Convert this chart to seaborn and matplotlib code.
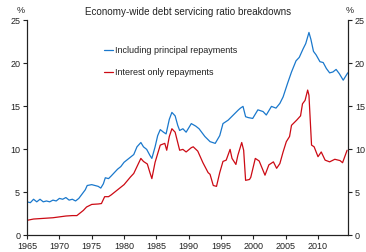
import seaborn as sns
import matplotlib.pyplot as plt
import pandas as pd

# Values (per cent of household disposable income)
principal_years = [1965.0, 1965.5, 1966.0, 1966.5, 1967.0, 1967.5, 1968.0, 1968.5, 1969.0, 1969.5,
                   1970.0, 1970.5, 1971.0, 1971.5, 1972.0, 1972.5, 1973.0, 1973.5, 1974.0, 1974.3,
                   1975.0, 1975.5, 1976.0, 1976.4, 1976.8, 1977.1, 1977.6, 1978.0, 1978.5, 1979.0,
                   1979.5, 1980.0, 1980.5, 1981.0, 1981.5, 1982.0, 1982.6, 1983.0, 1983.5, 1984.0,
                   1984.3, 1984.8, 1985.2, 1985.6, 1986.1, 1986.5, 1987.0, 1987.4, 1987.9, 1988.3,
                   1988.6, 1989.1, 1989.6, 1990.4, 1991.1, 1991.6, 1992.0, 1992.5, 1993.3, 1994.1,
                   1994.8, 1995.3, 1996.1, 1996.9, 1997.7, 1998.0, 1998.4, 1998.8, 1999.2, 1999.9,
                   2000.7, 2001.5, 2002.0, 2002.8, 2003.5, 2004.1, 2004.6, 2005.3, 2005.9, 2006.6,
                   2007.1, 2007.7, 2008.1, 2008.6, 2008.9, 2009.3, 2009.7, 2010.3, 2010.8, 2011.3,
                   2011.8, 2012.3, 2012.8, 2013.3, 2013.9, 2014.6]
principal_vals = [3.9, 3.8, 4.2, 3.9, 4.2, 3.9, 4.0, 3.9, 4.1, 4.0,
                  4.3, 4.2, 4.4, 4.1, 4.2, 4.0, 4.3, 4.8, 5.3, 5.8,
                  5.9, 5.8, 5.7, 5.5, 6.0, 6.7, 6.6, 6.9, 7.3, 7.7,
                  8.0, 8.5, 8.8, 9.1, 9.4, 10.3, 10.8, 10.3, 10.0, 9.3,
                  8.95, 10.3, 11.6, 12.3, 12.0, 11.8, 13.5, 14.3, 13.9, 12.8,
                  12.2, 12.4, 12.0, 13.0, 12.7, 12.4, 12.0, 11.5, 10.9, 10.7,
                  11.6, 13.0, 13.4, 14.0, 14.6, 14.8, 15.0, 13.8, 13.7, 13.6,
                  14.6, 14.4, 14.0, 15.0, 14.8, 15.35, 16.1, 17.7, 19.0, 20.3,
                  20.7, 21.7, 22.3, 23.6, 22.8, 21.4, 21.0, 20.2, 20.1, 19.4,
                  18.9, 19.0, 19.3, 18.8, 18.05, 18.9]

interest_years = [1965.0, 1966.0, 1967.0, 1968.0, 1969.0, 1970.0, 1971.0, 1972.0, 1972.7, 1973.2,
                  1973.7, 1974.2, 1975.0, 1976.0, 1976.5, 1977.0, 1977.6, 1978.0, 1979.0, 1980.0,
                  1981.0, 1981.5, 1982.0, 1982.6, 1983.0, 1983.6, 1984.0, 1984.3, 1984.8, 1985.6,
                  1986.3, 1986.6, 1987.0, 1987.4, 1987.9, 1988.3, 1988.6, 1989.1, 1989.6, 1990.4,
                  1990.7, 1991.4, 1992.2, 1993.0, 1993.3, 1993.8, 1994.3, 1994.8, 1995.3, 1995.8,
                  1996.4, 1996.7, 1997.3, 1997.6, 1998.2, 1998.5, 1998.8, 1999.4, 1999.6, 2000.3,
                  2000.9, 2001.8, 2002.4, 2003.1, 2003.6, 2004.1, 2004.6, 2005.1, 2005.6, 2005.9,
                  2006.7, 2007.3, 2007.6, 2008.0, 2008.4, 2008.6, 2009.0, 2009.4, 2010.0, 2010.5,
                  2011.1, 2011.8, 2012.6, 2013.4, 2013.8, 2014.5]
interest_vals = [1.75, 1.9, 1.95, 2.0, 2.05, 2.15, 2.25, 2.3, 2.3, 2.6,
                 2.9, 3.3, 3.6, 3.65, 3.7, 4.5, 4.5, 4.7, 5.3, 5.9,
                 6.8, 7.2, 8.0, 8.95, 8.6, 8.3, 7.3, 6.6, 8.5, 10.5,
                 10.7, 9.9, 11.5, 12.4, 12.0, 10.8, 9.9, 10.0, 9.7, 10.2,
                 10.3, 9.8, 8.45, 7.3, 7.1, 5.8, 5.7, 7.3, 8.6, 8.75,
                 10.0, 8.95, 8.25, 9.3, 10.8, 9.9, 6.4, 6.5, 6.75, 8.95,
                 8.65, 7.0, 8.2, 8.55, 7.8, 8.35, 9.7, 10.9, 11.5, 12.8,
                 13.4, 13.9, 15.3, 15.7, 16.9, 16.3, 10.5, 10.3, 9.15, 9.7,
                 8.75, 8.55, 8.85, 8.7, 8.45, 9.9]

series_names = ['Including principal repayments', 'Interest only repayments']
year_ticks = [1965, 1970, 1975, 1980, 1985, 1990, 1995, 2000, 2005, 2010]
pct_ticks = [0, 5, 10, 15, 20, 25]

df = pd.concat([
    pd.DataFrame({'year': principal_years, 'ratio': principal_vals, 'series': series_names[0]}),
    pd.DataFrame({'year': interest_years, 'ratio': interest_vals, 'series': series_names[1]}),
])

sns.set_theme(style='ticks')
plt.rcParams['font.family'] = ['Liberation Sans', 'DejaVu Sans']
plt.rcParams['font.size'] = 6.5

fig = plt.figure(figsize=(3.66, 2.52), dpi=100)
ax = fig.add_axes([0.074, 0.066, 0.877, 0.853])

sns.lineplot(data=df, x='year', y='ratio', hue='series', hue_order=series_names,
             palette=['#1a78cc', '#cc0a14'], estimator=None, linewidth=0.9, ax=ax)

ax.set_xlim(1965, 2014.65)
ax.set_ylim(0, 25)
ax.set_xticks(year_ticks)
ax.set_yticks(pct_ticks)
ax.set_xlabel('')
ax.set_ylabel('')
ax.spines['top'].set_visible(False)
ax.spines['right'].set_visible(True)

ax2 = ax.twinx()
ax2.set_ylim(0, 25)
ax2.set_yticks(pct_ticks)
ax2.spines['top'].set_visible(False)

for a in (ax, ax2):
    for s in a.spines.values():
        s.set_linewidth(0.8)
        s.set_color('#222222')
    a.tick_params(labelsize=6.5, length=3, width=0.8, colors='#222222', pad=2)

ax.text(-0.02, 1.045, '%', transform=ax.transAxes, ha='center', va='center', fontsize=6.5, color='#222222')
ax2.text(1.006, 1.045, '%', transform=ax.transAxes, ha='center', va='center', fontsize=6.5, color='#222222')
ax.set_title('Economy-wide debt servicing ratio breakdowns', fontsize=7.1, pad=4, color='#222222')

leg = ax.legend(loc='upper left', bbox_to_anchor=(0.24, 0.88), frameon=False,
                handlelength=1.0, handletextpad=0.15, labelspacing=1.45,
                borderpad=0, borderaxespad=0, fontsize=6.5)
for t in leg.get_texts():
    t.set_color('#222222')

fig.savefig('out.png', dpi=100)
plt.close(fig)
